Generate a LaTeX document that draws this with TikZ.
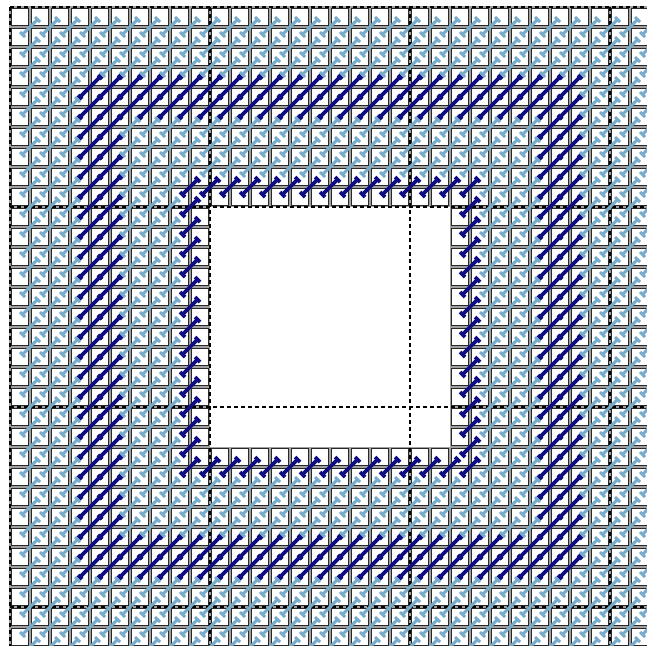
\documentclass[tikz,border=0pt]{standalone}
\definecolor{lblue}{RGB}{120,172,204}
\definecolor{dnavy}{RGB}{14,14,130}
\definecolor{cellc}{RGB}{40,40,40}
\definecolor{gapc}{RGB}{160,160,160}
\newcommand\stch[4]{%
  \draw (#1-#3,#2+#3) -- (#1+#3,#2-#3);
  \draw (#1-#3-#4,#2+#3-#4) -- (#1-#3+#4,#2+#3+#4);
  \draw (#1+#3-#4,#2-#3-#4) -- (#1+#3+#4,#2-#3+#4);
}
\begin{document}
\begin{tikzpicture}[x=1pt,y=-1pt,
  cellbox/.style={draw=cellc,line width=1.6pt},
  gapline/.style={draw=gapc,line width=1.4pt},
  majorline/.style={draw=black,line width=1.4pt,dash pattern=on 4pt off 3pt},
  lightst/.style={draw=lblue,line width=3pt},
  navyst/.style={draw=dnavy,line width=3.6pt}]
\useasboundingbox (0,0) rectangle (647,645);
\clip (0,0) rectangle (647,645);
\fill[white] (0,0) rectangle (647,645);
% gaps between cells
\foreach \k in {0,...,32}{
  \draw[gapline] (10+20*\k,7) -- (10+20*\k,647);
  \draw[gapline] (10,7+20*\k) -- (650,7+20*\k);
}
\fill[white] (210,207) rectangle (450,447);
% cells
\foreach \c in {0,...,31}{
  \foreach \r in {0,...,31}{
    \pgfmathtruncatemacro\inw{and(and(\c>9,\c<22),and(\r>9,\r<22))}
    \ifnum\inw=0 \draw[cellbox] (11.6+20*\c,8.6+20*\r) rectangle ++(16.8,16.8); \fi
  }
}
% major dashed lines
\foreach \k in {0,1,2,3}{
  \draw[majorline] (10+200*\k,7) -- (10+200*\k,647);
  \draw[majorline] (10,7+200*\k) -- (650,7+200*\k);
}
% light blue stitches
\foreach \i in {1,...,32}{
  \foreach \j in {1,...,32}{
    \pgfmathtruncatemacro\ho{and(and(\i>9,\i<23),and(\j>9,\j<23))}
    \pgfmathtruncatemacro\inr{or(and(or(\i==9,\i==23),and(\j>8,\j<24)),and(or(\j==9,\j==23),and(\i>8,\i<24)))}
    \pgfmathtruncatemacro\our{or(and(or(or(\i==4,\i==5),or(\i==27,\i==28)),and(\j>3,\j<29)),and(or(or(\j==4,\j==5),or(\j==27,\j==28)),and(\i>3,\i<29)))}
    \pgfmathtruncatemacro\sm{\ho+\inr+\our}
    \ifnum\sm=0
      \begin{scope}[lightst]\stch{10+20*\i}{7+20*\j}{7.5}{2.5}\end{scope}
    \fi
  }
}
% navy stitches
\foreach \i in {4,...,28}{
  \foreach \j in {4,...,28}{
    \pgfmathtruncatemacro\inr{or(and(or(\i==9,\i==23),and(\j>8,\j<24)),and(or(\j==9,\j==23),and(\i>8,\i<24)))}
    \pgfmathtruncatemacro\our{or(and(or(or(\i==4,\i==5),or(\i==27,\i==28)),and(\j>3,\j<29)),and(or(or(\j==4,\j==5),or(\j==27,\j==28)),and(\i>3,\i<29)))}
    \ifnum\our=1
      \begin{scope}[navyst]\stch{10+20*\i}{7+20*\j}{10}{2}\end{scope}
    \else\ifnum\inr=1
      \begin{scope}[navyst]\stch{10+20*\i}{7+20*\j}{7.5}{2.5}\end{scope}
    \fi\fi
  }
}
\end{tikzpicture}
\end{document}
